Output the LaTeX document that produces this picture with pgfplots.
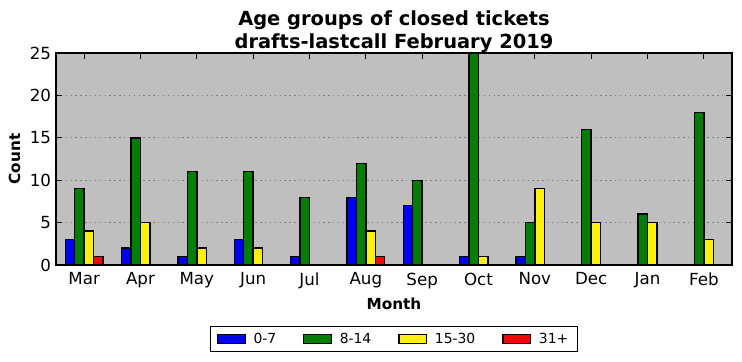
\documentclass[border=0pt]{standalone}
\usepackage{pgfplots}
\pgfplotsset{compat=1.18}
\usepackage{fontspec}
\setmainfont{DejaVu Sans}
\definecolor{bgcol}{HTML}{BFBFBF}
\pgfplotsset{
  mybar/.style={ybar, draw=black, line width=1pt, bar width=0.1667,
    legend image code/.code={\draw[##1, line width=0.8pt] (0pt,-3.2pt) rectangle (20pt,3.2pt);}},
}
\begin{document}
\begin{tikzpicture}
\useasboundingbox (-40.3pt,-69.1pt) rectangle (493.9pt,190.8pt);
\begin{axis}[
  at={(0,0)}, anchor=south west, scale only axis,
  width=486.7pt, height=152.6pt,
  xmin=-0.5, xmax=11.5, ymin=0, ymax=25,
  xtick={0,...,11},
  xticklabels={Mar,Apr,May,Jun,Jul,Aug,Sep,Oct,Nov,Dec,Jan,Feb},
  ytick={0,5,10,15,20,25},
  axis background/.style={fill=bgcol},
  axis line style={line width=1pt},
  ymajorgrids, major grid style={dash pattern=on 1pt off 2.5pt, color={rgb,255:red,128;green,128;blue,128}, line width=0.6pt},
  tick style={black, line width=0.8pt},
  major tick length=4pt,
  tick align=inside,
  ticklabel style={font=\fontsize{12}{14}\selectfont},
  xticklabel style={yshift=-2pt},
  /pgf/number format/assume math mode=true,
  title={Age groups of closed tickets\\drafts-lastcall February 2019},
  title style={align=center, font=\bfseries\fontsize{14}{16.5}\selectfont, at={(0.5,1)}, anchor=south, yshift=-9pt},
  xlabel={Month}, ylabel={Count},
  label style={font=\bfseries\fontsize{11}{13}\selectfont},
  legend style={at={(0.5,-0.2877)}, anchor=north, legend columns=4, draw=black, line width=0.8pt, fill=white,
    font=\fontsize{10}{12}\selectfont, inner xsep=4.5pt, inner ysep=2.5pt,
    /tikz/every odd column/.append style={column sep=3.5pt},
    /tikz/every even column/.append style={column sep=17.5pt}},
]
\addplot[mybar, fill=blue, bar shift=-0.25] coordinates {(0,3) (1,2) (2,1) (3,3) (4,1) (5,8) (6,7) (7,1) (8,1) (9,0) (10,0) (11,0)};
\addplot[mybar, fill={rgb,255:red,0;green,128;blue,0}, bar shift=-0.0833] coordinates {(0,9) (1,15) (2,11) (3,11) (4,8) (5,12) (6,10) (7,25) (8,5) (9,16) (10,6) (11,18)};
\addplot[mybar, fill=yellow, bar shift=0.0833] coordinates {(0,4) (1,5) (2,2) (3,2) (4,0) (5,4) (6,0) (7,1) (8,9) (9,5) (10,5) (11,3)};
\addplot[mybar, fill=red, bar shift=0.25] coordinates {(0,1) (1,0) (2,0) (3,0) (4,0) (5,1) (6,0) (7,0) (8,0) (9,0) (10,0) (11,0)};
\legend{0-7,8-14,15-30,31+}
\end{axis}
\end{tikzpicture}
\end{document}
